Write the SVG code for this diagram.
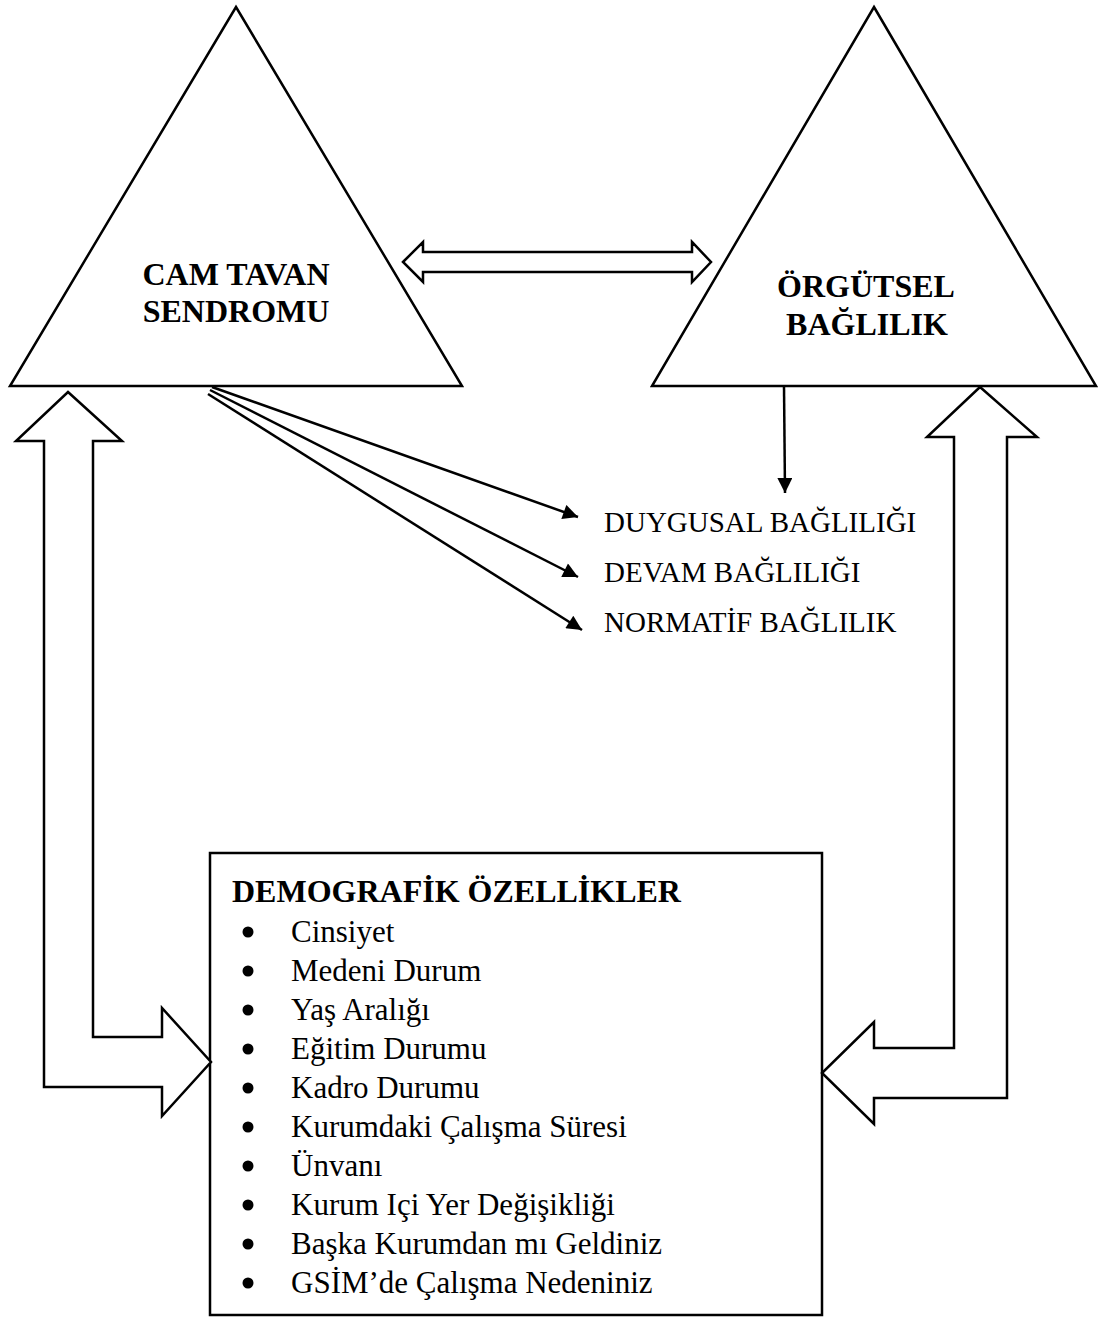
<svg xmlns="http://www.w3.org/2000/svg" width="1100" height="1323" viewBox="0 0 1100 1323">
<defs>
<style>
.shape{fill:#fff;stroke:#000;stroke-width:2.5;stroke-linejoin:miter}
.thin{fill:none;stroke:#000;stroke-width:2.5}
.head{fill:#000}
.bold{font-family:"Liberation Serif","Times New Roman",serif;font-weight:bold;font-size:32px;fill:#000}
.lbl{font-family:"Liberation Serif","Times New Roman",serif;font-size:29px;fill:#000}
.item{font-family:"Liberation Serif","Times New Roman",serif;font-size:31px;fill:#000}
</style>
<marker id="ah" viewBox="0 0 10 10" refX="10" refY="5" markerWidth="7" markerHeight="6" markerUnits="strokeWidth" orient="auto">
<path d="M0,0 L10,5 L0,10 Z" class="head"/>
</marker>
</defs>
<rect width="1100" height="1323" fill="#fff"/>

<g id="cam-tavan">
<polygon class="shape" points="236,7 462,386 10,386"/>
<text class="bold" x="236" y="285" text-anchor="middle">CAM TAVAN</text>
<text class="bold" x="236" y="322" text-anchor="middle">SENDROMU</text>
</g>

<g id="orgutsel">
<polygon class="shape" points="874,7 1096,386 652,386"/>
<text class="bold" x="866" y="297" text-anchor="middle">ÖRGÜTSEL</text>
<text class="bold" x="867" y="335" text-anchor="middle">BAĞLILIK</text>
</g>

<g id="labels">
<text class="lbl" x="604" y="532">DUYGUSAL BAĞLILIĞI</text>
<text class="lbl" x="604" y="582">DEVAM BAĞLILIĞI</text>
<text class="lbl" x="604" y="632">NORMATİF BAĞLILIK</text>
</g>

<g id="demografik">
<rect class="shape" x="210" y="853" width="612" height="462"/>
<text class="bold" x="232" y="902">DEMOGRAFİK ÖZELLİKLER</text>
<g fill="#000">
<circle cx="248" cy="932" r="5.5"/>
<circle cx="248" cy="971" r="5.5"/>
<circle cx="248" cy="1010" r="5.5"/>
<circle cx="248" cy="1049" r="5.5"/>
<circle cx="248" cy="1088" r="5.5"/>
<circle cx="248" cy="1127" r="5.5"/>
<circle cx="248" cy="1166" r="5.5"/>
<circle cx="248" cy="1205" r="5.5"/>
<circle cx="248" cy="1244" r="5.5"/>
<circle cx="248" cy="1283" r="5.5"/>
</g>
<text class="item" x="291" y="942">Cinsiyet</text>
<text class="item" x="291" y="981">Medeni Durum</text>
<text class="item" x="291" y="1020">Yaş Aralığı</text>
<text class="item" x="291" y="1059">Eğitim Durumu</text>
<text class="item" x="291" y="1098">Kadro Durumu</text>
<text class="item" x="291" y="1137">Kurumdaki Çalışma Süresi</text>
<text class="item" x="291" y="1176">Ünvanı</text>
<text class="item" x="291" y="1215">Kurum Içi Yer Değişikliği</text>
<text class="item" x="291" y="1254">Başka Kurumdan mı Geldiniz</text>
<text class="item" x="291" y="1293">GSİM’de Çalışma Nedeniniz</text>
</g>

<g id="connectors">
<polygon class="shape" points="403,262 423,242 423,252 692,252 692,242 711,262 692,282 692,272 423,272 423,282"/>
<polygon class="shape" points="68,392 122,441 93,441 93,1037 162,1037 162,1008 211,1062 162,1116 162,1087 44,1087 44,441 16,441"/>
<polygon class="shape" points="980,387 1037,437 1007,437 1007,1098 874,1098 874,1124 822,1073 874,1022 874,1048 954,1048 954,437 927,437"/>
<line class="thin" x1="212" y1="387" x2="578" y2="517" marker-end="url(#ah)"/>
<line class="thin" x1="210" y1="390" x2="578" y2="577" marker-end="url(#ah)"/>
<line class="thin" x1="208" y1="394" x2="582" y2="630" marker-end="url(#ah)"/>
<line class="thin" x1="784" y1="386" x2="785" y2="493" marker-end="url(#ah)"/>
</g>
</svg>
